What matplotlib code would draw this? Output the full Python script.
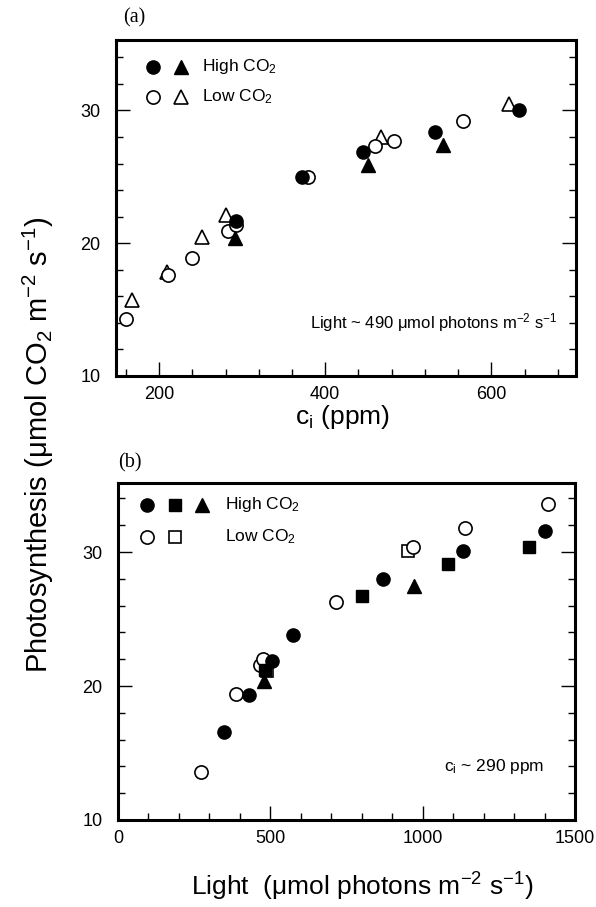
import matplotlib
matplotlib.use("Agg")
import matplotlib.pyplot as plt
from matplotlib.ticker import MultipleLocator

plt.rcParams["font.family"] = ["Liberation Sans", "DejaVu Sans"]
plt.rcParams["mathtext.fontset"] = "custom"
plt.rcParams["mathtext.rm"] = "Liberation Sans"
plt.rcParams["mathtext.it"] = "Liberation Sans:italic"

# panel (a): photosynthesis vs ci, light ~ 490
a_high_circle_x = [293, 372, 446, 532, 633]
a_high_circle_y = [21.7, 25.0, 26.9, 28.4, 30.0]
a_high_tri_x = [291, 451, 542]
a_high_tri_y = [20.4, 25.9, 27.4]
a_low_circle_x = [160, 211, 240, 283, 292, 379, 460, 483, 566]
a_low_circle_y = [14.3, 17.6, 18.9, 20.9, 21.4, 25.0, 27.3, 27.7, 29.2]
a_low_tri_x = [167, 209, 252, 281, 467, 621]
a_low_tri_y = [15.7, 17.8, 20.5, 22.1, 28.0, 30.5]

# panel (b): photosynthesis vs light, ci ~ 290
b_high_circle_x = [349, 430, 507, 575, 869, 1134, 1400]
b_high_circle_y = [16.6, 19.3, 21.9, 23.8, 28.0, 30.1, 31.6]
b_high_sq_x = [482, 800, 1083, 1349]
b_high_sq_y = [21.2, 26.7, 29.1, 30.4]
b_high_tri_x = [479, 973]
b_high_tri_y = [20.4, 27.5]
b_low_circle_x = [273, 388, 466, 476, 715, 968, 1138, 1411]
b_low_circle_y = [13.6, 19.4, 21.6, 22.0, 26.3, 30.4, 31.8, 33.6]
b_low_sq_x = [490, 952]
b_low_sq_y = [21.1, 30.1]

W, H = 596, 907
fig = plt.figure(figsize=(W / 100, H / 100), dpi=100)
ax_a = fig.add_axes([116 / W, 1 - 376 / H, 460 / W, 336 / H])
ax_b = fig.add_axes([118 / W, 1 - 820 / H, 457 / W, 337 / H])

ms_c = 9.5
ms_t = 9.5
ms_s = 8
mew = 1.2


def filled(ax, x, y, m, ms, **kw):
    ax.plot(x, y, m, ls="none", color="black", ms=ms, **kw)


def hollow(ax, x, y, m, ms, **kw):
    ax.plot(x, y, m, ls="none", mfc="white", mec="black", mew=mew, ms=ms, **kw)


hollow(ax_a, a_low_tri_x, a_low_tri_y, "^", ms_t)
hollow(ax_a, a_low_circle_x, a_low_circle_y, "o", ms_c)
filled(ax_a, a_high_tri_x, a_high_tri_y, "^", ms_t)
filled(ax_a, a_high_circle_x, a_high_circle_y, "o", ms_c)

hollow(ax_b, b_low_sq_x, b_low_sq_y, "s", ms_s)
hollow(ax_b, b_low_circle_x, b_low_circle_y, "o", ms_c)
filled(ax_b, b_high_tri_x, b_high_tri_y, "^", ms_t)
filled(ax_b, b_high_sq_x, b_high_sq_y, "s", ms_s)
filled(ax_b, b_high_circle_x, b_high_circle_y, "o", ms_c)

ax_a.set_xlim(148, 702)
ax_a.set_ylim(10, 35.3)
ax_a.xaxis.set_major_locator(MultipleLocator(200))
ax_a.xaxis.set_minor_locator(MultipleLocator(40))

ax_b.set_xlim(0, 1500)
ax_b.set_ylim(10, 35.15)
ax_b.xaxis.set_major_locator(MultipleLocator(500))
ax_b.xaxis.set_minor_locator(MultipleLocator(100))

for ax in (ax_a, ax_b):
    ax.yaxis.set_major_locator(MultipleLocator(10))
    ax.yaxis.set_minor_locator(MultipleLocator(2))
    for s in ax.spines.values():
        s.set_linewidth(2.2)
    ax.tick_params(which="both", direction="in", right=True, top=False,
                   width=1.0, labelsize=13)
    ax.tick_params(which="major", length=10)
    ax.tick_params(which="minor", length=5)
    ax.tick_params(axis="y", pad=11)
    ax.tick_params(axis="x", pad=7)

# legends drawn by hand
leg_kw = dict(transform=ax_a.transAxes, clip_on=False)
filled(ax_a, [0.081], [0.9205], "o", ms_c, **leg_kw)
filled(ax_a, [0.141], [0.9205], "^", ms_t, **leg_kw)
hollow(ax_a, [0.081], [0.831], "o", ms_c, **leg_kw)
hollow(ax_a, [0.141], [0.831], "^", ms_t, **leg_kw)
ax_a.text(0.188, 0.9205, r"High CO$_\mathregular{2}$", transform=ax_a.transAxes,
          fontsize=12.5, va="center")
ax_a.text(0.188, 0.831, r"Low CO$_\mathregular{2}$", transform=ax_a.transAxes,
          fontsize=12.5, va="center")

leg_kw = dict(transform=ax_b.transAxes, clip_on=False)
filled(ax_b, [0.064], [0.935], "o", ms_c, **leg_kw)
filled(ax_b, [0.125], [0.935], "s", ms_s, **leg_kw)
filled(ax_b, [0.183], [0.935], "^", ms_t, **leg_kw)
hollow(ax_b, [0.064], [0.841], "o", ms_c, **leg_kw)
hollow(ax_b, [0.125], [0.841], "s", ms_s, **leg_kw)
ax_b.text(0.234, 0.935, r"High CO$_\mathregular{2}$", transform=ax_b.transAxes,
          fontsize=12.5, va="center")
ax_b.text(0.234, 0.841, r"Low CO$_\mathregular{2}$", transform=ax_b.transAxes,
          fontsize=12.5, va="center")

ax_a.text(0.961, 0.158, r"Light ~ 490 μmol photons m$^\mathregular{-2}$ s$^\mathregular{-1}$",
          transform=ax_a.transAxes, fontsize=12, ha="right", va="center")
ax_b.text(0.932, 0.16, r"c$_\mathregular{i}$ ~ 290 ppm",
          transform=ax_b.transAxes, fontsize=12.5, ha="right", va="center")

fig.text(134 / W, 1 - 18 / H, "(a)", family="Liberation Serif", fontsize=14.5,
         ha="center", va="center")
fig.text(130 / W, 1 - 463 / H, "(b)", family="Liberation Serif", fontsize=14.5,
         ha="center", va="center")

fig.text(342 / W, 1 - 417 / H, r"c$_\mathregular{i}$ (ppm)", fontsize=19,
         ha="center", va="center")
fig.text(362 / W, 1 - 887 / H,
         r"Light  (μmol photons m$^\mathregular{-2}$ s$^\mathregular{-1}$)",
         fontsize=19, ha="center", va="center")
fig.text(38 / W, 1 - 445 / H,
         r"Photosynthesis (μmol CO$_\mathregular{2}$ m$^\mathregular{-2}$ s$^\mathregular{-1}$)",
         fontsize=21, ha="center", va="center", rotation=90)

fig.savefig("out.png", dpi=100)
